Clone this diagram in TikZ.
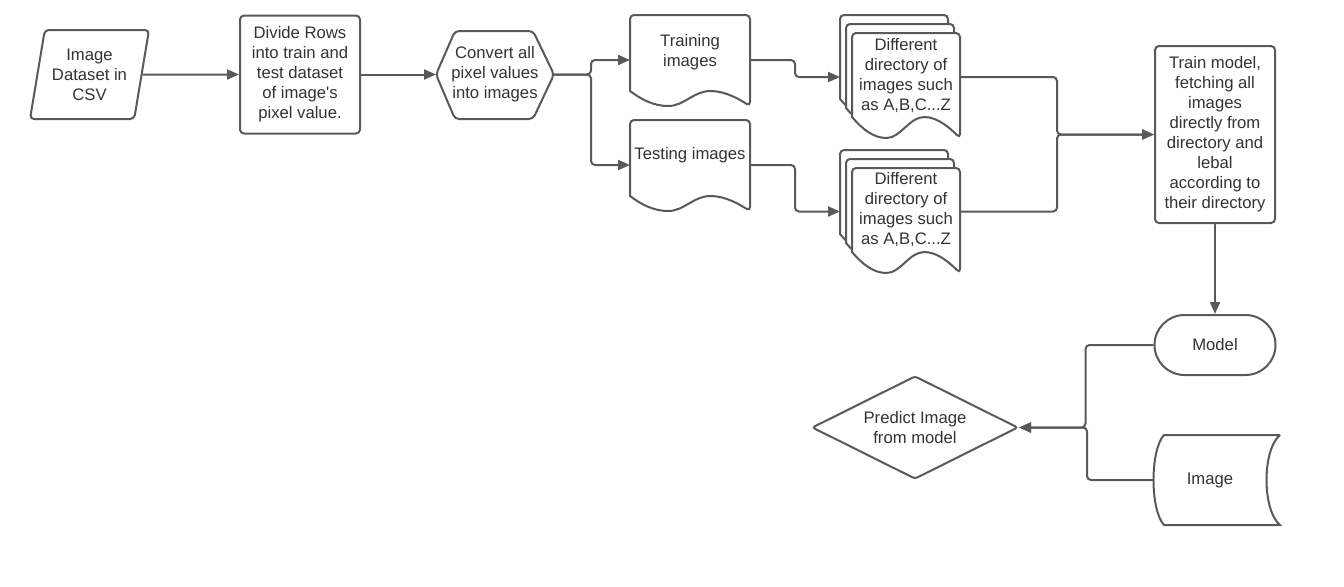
\documentclass[tikz,border=0pt]{standalone}
\usepackage{fontspec}
\setmainfont{Liberation Sans}
\usepackage{tikz}
\usetikzlibrary{shapes.geometric,arrows.meta,calc}

\definecolor{linegray}{RGB}{89,89,89}
\definecolor{textgray}{RGB}{51,51,51}
\newcommand{\px}{0.75pt}

\tikzset{
  shp/.style={draw=linegray,line width=1.5pt,fill=white},
  txt/.style={text=textgray,align=center,inner sep=0pt,font=\fontsize{12.5}{15}\selectfont},
  box/.style={shp,txt,rounded corners=3pt},
  area/.style={inner sep=0pt,outer sep=0pt},
  link/.style={draw=linegray,line width=1.5pt,rounded corners=3pt}
}

% paper sheet with a wavy bottom: left, top, width, height of left edge, wave depth
\newcommand{\docsheet}[5]{%
  \filldraw[shp] (#1,#2+#4) [rounded corners=3pt] -- (#1,#2) -- (#1+#3,#2) -- (#1+#3,#2+#4+#5) [sharp corners]
    .. controls (#1+0.92*#3,#2+#4+0.6*#5) and (#1+0.8*#3,#2+#4) .. (#1+0.67*#3,#2+#4)
    .. controls (#1+0.53*#3,#2+#4) and (#1+0.45*#3,#2+#4+#5) .. (#1+0.32*#3,#2+#4+#5)
    .. controls (#1+0.2*#3,#2+#4+#5) and (#1+0.1*#3,#2+#4+0.6*#5) .. (#1,#2+#4) -- cycle;}

\begin{document}
\begin{tikzpicture}[x=0.75pt,y=-0.75pt,>={Triangle[length=9pt,width=7.5pt]}]
        \useasboundingbox (0,0) rectangle (1344,586);
        % outlines drawn first
        \draw[shp,rounded corners=3pt] (436,74.5) -- (455,31) -- (533,31) -- (554,74.5) -- (533,119) -- (455,119) -- cycle;
        \docsheet{630}{15}{120}{76}{15}
        \docsheet{630}{120}{120}{76}{15}
        \docsheet{840}{15}{108}{84}{21}
        \docsheet{846}{24}{108}{84}{21}
        \docsheet{852}{33}{108}{84}{21}
        \docsheet{840}{150}{108}{84}{21}
        \docsheet{846}{159}{108}{84}{21}
        \docsheet{852}{168}{108}{84}{21}
        \filldraw[shp] (1280,435) -- (1164,435) .. controls (1150,450) and (1150,510) .. (1164,525)
          -- (1280,525) .. controls (1262,510) and (1262,450) .. (1280,435);
        % nodes
        \node[shp,txt,trapezium,trapezium left angle=74,trapezium right angle=106,trapezium stretches body,
          minimum width=119*\px,minimum height=89*\px,rounded corners=3pt] (csv) at (89.5,74.5) {Image\\Dataset in\\CSV};
        \node[box,minimum width=120*\px,minimum height=118*\px] (split) at (300,74.5)
          {Divide Rows\\into train and\\test dataset\\of image\textquotesingle s\\pixel value.};
        \node[area,txt,minimum width=118*\px,minimum height=88*\px] (conv) at (495,74.5)
          {Convert all\\pixel values\\into images};
        \node[area,minimum width=120*\px,minimum height=90*\px] (trn) at (690,60) {};
        \node[txt] (trn-t) at (690,52) {Training\\images};
        \node[area,minimum width=120*\px,minimum height=90*\px] (tst) at (690,165) {};
        \node[txt] (tst-t) at (690,155) {Testing images};
        \node[area,minimum width=120*\px,minimum height=124*\px] (dir1) at (900,77) {};
        \node[txt] (dir1-t) at (906,76) {Different\\directory of\\images such\\as A,B,C...Z};
        \node[area,minimum width=120*\px,minimum height=124*\px] (dir2) at (900,211.5) {};
        \node[txt] (dir2-t) at (906,210) {Different\\directory of\\images such\\as A,B,C...Z};
        \node[box,minimum width=120*\px,minimum height=177*\px] (fit) at (1215,134.5)
          {Train model,\\fetching all\\images\\directly from\\directory and\\lebal\\according to\\their directory};
        \node[shp,txt,rounded corners=22.5pt,minimum width=121*\px,minimum height=60*\px] (mdl) at (1215,345) {Model};
        \node[area,txt,minimum width=114*\px,minimum height=90*\px] (img) at (1210,480) {Image};
        \node[shp,txt,diamond,aspect=2,rounded corners=2pt,minimum width=206*\px,minimum height=103*\px] (pred) at (915,427.5)
          {Predict Image\\from model};
        % connectors
        \draw[link,->] (csv.east) -- (split.west);
        \draw[link,->] (split.east) -- (conv.west);
        \draw[link,->] (conv.east) -- ++(37,0) |- (trn.west);
        \draw[link,->] (conv.east) -- ++(37,0) |- (tst.west);
        \draw[link,->] (trn.east) -- ++(45,0) |- (dir1.west);
        \draw[link,->] (tst.east) -- ++(45,0) |- (dir2.west);
        \draw[link,->] (dir1.east) -- ++(97,0) |- (fit.west);
        \draw[link,->] (dir2.east) -- ++(97,0) |- (fit.west);
        \draw[link,->] (fit.south) -- (mdl.north);
        \draw[link,->] (mdl.west) -- ++(-68,0) |- (pred.east);
        \draw[link,->] (img.west) -- ++(-66,0) |- (pred.east);
\end{tikzpicture}
\end{document}
